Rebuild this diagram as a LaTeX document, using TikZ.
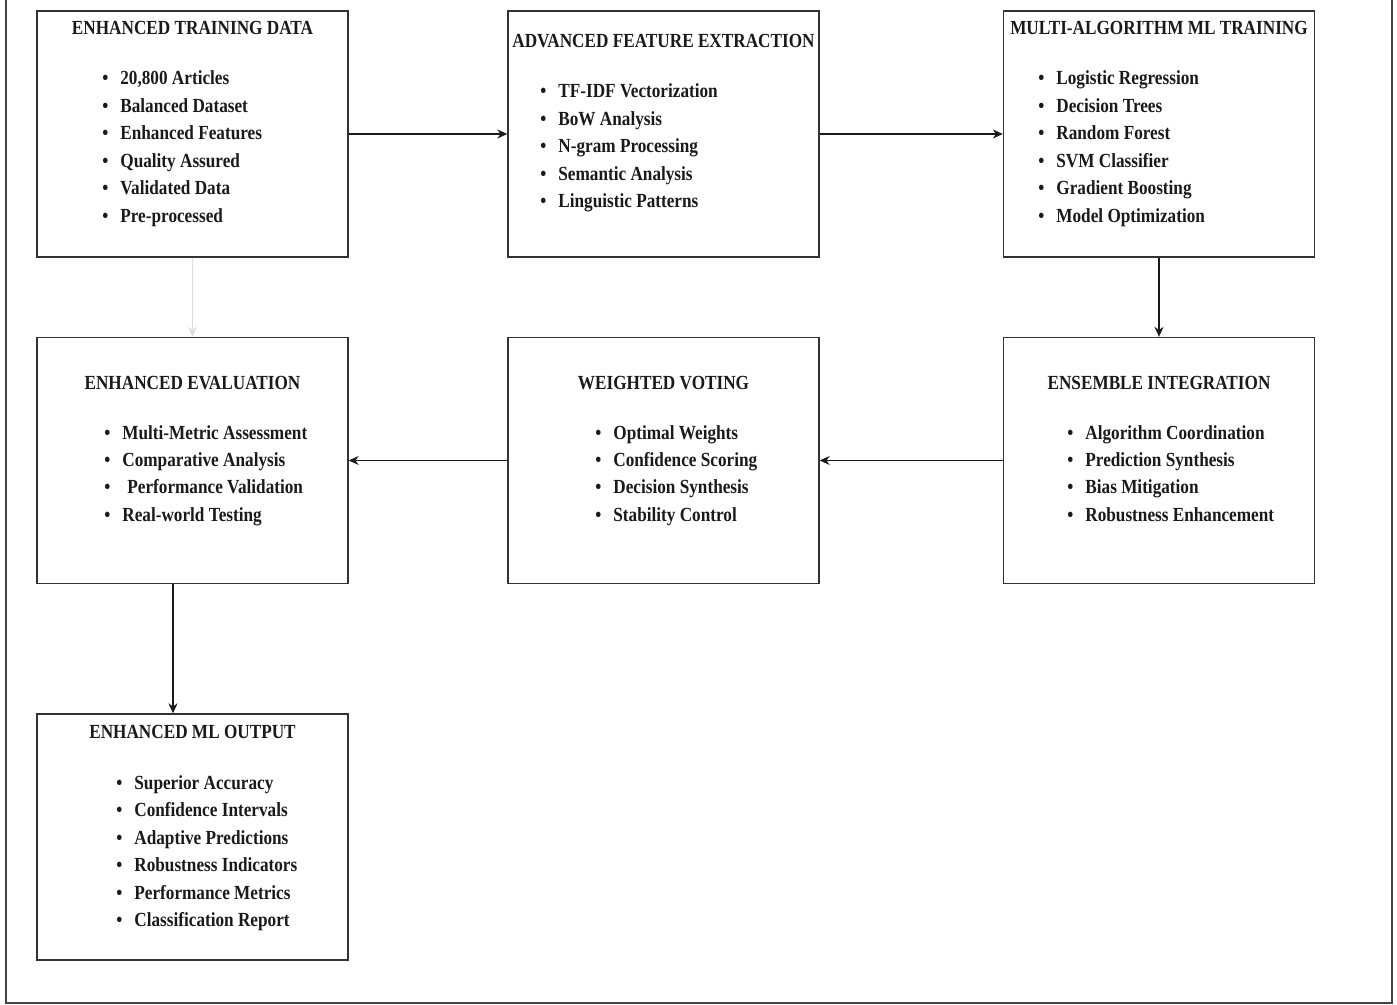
\documentclass[tikz,border=0pt]{standalone}
\usepackage{fontspec}
\setmainfont{Liberation Serif}[FakeStretch=0.86]
\usetikzlibrary{arrows.meta}
\usetikzlibrary{calc}
\definecolor{edgegray}{HTML}{333333}
\definecolor{faintgray}{HTML}{DDDDDD}
\definecolor{framegray}{HTML}{444444}
\definecolor{inkblack}{HTML}{1A1A1A}
\newcommand{\bitem}[1]{\makebox[9pt][l]{\textbullet}#1}
\begin{document}
\begin{tikzpicture}[x=0.5pt, y=-0.5pt,
    stagebox/.style = {draw=edgegray, line width=0.7pt, minimum width=155.5pt, minimum height=123pt, inner sep=0pt},
    boxtitle/.style = {anchor=base, inner sep=0pt, font=\fontsize{10pt}{13.75pt}\selectfont\bfseries, text=inkblack},
    boxlist/.style = {anchor=base west, inner sep=0pt, align=left, font=\fontsize{10pt}{13.75pt}\selectfont\bfseries, text=inkblack},
    flow/.style = {draw=inkblack, line width=0.6pt, -{Stealth[length=5pt,width=4.5pt]}}]
            \useasboundingbox (0,0) rectangle (1397,1005);
            \draw[framegray, line width=0.75pt] (6,0) -- (6,1003) -- (1392,1003) -- (1392,0);

            % top row
            \node[stagebox] (train) at (192.5,134) {};
            \node[stagebox] (feat) at (663.5,134) {};
            \node[stagebox] (multi) at (1159,134) {};
            % middle row
            \node[stagebox] (evalbox) at (192.5,460.5) {};
            \node[stagebox] (vote) at (663.5,460.5) {};
            \node[stagebox] (ensemble) at (1159,460.5) {};
            % bottom
            \node[stagebox] (output) at (192.5,837) {};

            % titles and lists (lists sit on the baseline of their last line)
            \node[boxtitle] (trainT) at (192.5,35) {ENHANCED TRAINING DATA};
            \node[boxlist] (trainL) at (102,222.5) {\bitem{20,800 Articles}\\ \bitem{Balanced Dataset}\\ \bitem{Enhanced Features}\\
                \bitem{Quality Assured}\\ \bitem{Validated Data}\\ \bitem{Pre-processed}};

            \node[boxtitle] (featT) at (663.5,48) {ADVANCED FEATURE EXTRACTION};
            \node[boxlist] (featL) at (540,208) {\bitem{TF-IDF Vectorization}\\ \bitem{BoW Analysis}\\ \bitem{N-gram Processing}\\
                \bitem{Semantic Analysis}\\ \bitem{Linguistic Patterns}};

            \node[boxtitle] (multiT) at (1159,35) {MULTI-ALGORITHM ML TRAINING};
            \node[boxlist] (multiL) at (1038,222.5) {\bitem{Logistic Regression}\\ \bitem{Decision Trees}\\ \bitem{Random Forest}\\
                \bitem{SVM Classifier}\\ \bitem{Gradient Boosting}\\ \bitem{Model Optimization}};

            \node[boxtitle] (evalT) at (192.5,390) {ENHANCED EVALUATION};
            \node[boxlist] (evalL) at (104,521.5) {\bitem{Multi-Metric Assessment}\\ \bitem{Comparative Analysis}\\
                \bitem{\hspace{2.5pt}Performance Validation}\\ \bitem{Real-world Testing}};

            \node[boxtitle] (voteT) at (663.5,390) {WEIGHTED VOTING};
            \node[boxlist] (voteL) at (595,521.5) {\bitem{Optimal Weights}\\ \bitem{Confidence Scoring}\\
                \bitem{Decision Synthesis}\\ \bitem{Stability Control}};

            \node[boxtitle] (ensembleT) at (1159,390) {ENSEMBLE INTEGRATION};
            \node[boxlist] (ensembleL) at (1067,521.5) {\bitem{Algorithm Coordination}\\ \bitem{Prediction Synthesis}\\
                \bitem{Bias Mitigation}\\ \bitem{Robustness Enhancement}};

            \node[boxtitle] (outputT) at (192.5,738) {ENHANCED ML OUTPUT};
            \node[boxlist] (outputL) at (116,926.5) {\bitem{Superior Accuracy}\\ \bitem{Confidence Intervals}\\ \bitem{Adaptive Predictions}\\
                \bitem{Robustness Indicators}\\ \bitem{Performance Metrics}\\ \bitem{Classification Report}};

            % connectors
            \draw[flow] (train) -- (feat);
            \draw[flow] (feat) -- (multi);
            \draw[flow] (multi) -- (ensemble);
            \draw[flow] (ensemble) -- (vote);
            \draw[flow] (vote) -- (evalbox);
            \draw[flow] ([xshift=-9.75pt]evalbox.south) -- ([xshift=-9.75pt]output.north);
            \draw[flow, draw=faintgray] (train) -- (evalbox);
\end{tikzpicture}
\end{document}
